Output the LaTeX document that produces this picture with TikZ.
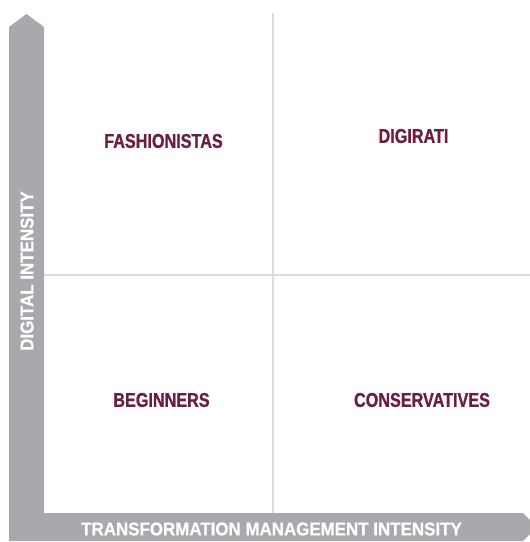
\documentclass[tikz,border=0pt]{standalone}
\usepackage{fontspec}
\setmainfont{Liberation Sans}[FakeStretch=0.81,BoldFeatures={FakeBold=1}]
\newfontfamily\axisfont{Liberation Sans}[FakeStretch=0.92,BoldFeatures={FakeBold=0.8}]
\definecolor{band}{HTML}{A7A9AC}
\definecolor{wine}{HTML}{6D1D42}
\definecolor{gridline}{HTML}{DCDCDC}
\begin{document}
\begin{tikzpicture}[x=1pt,y=-1pt,
    quad/.style={text=wine,font=\bfseries\fontsize{20}{20}\selectfont},
    axislabel/.style={text=white,font=\axisfont\bfseries\fontsize{18.4}{18.4}\selectfont}]
        \useasboundingbox (0,0) rectangle (530,542);
        \clip (0,0) rectangle (530,542);

        \draw[gridline,line width=1.5] (273,13) -- (273,513);
        \draw[gridline,line width=1.5] (44,275) -- (530,275);

        \fill[band] (9,27) -- (26.5,14) -- (44,27) -- (44,513) -- (523,513)
            -- (537,527) -- (523,541) -- (9,541) -- cycle;

        \node[quad] (fashionistas) at (163.5,141) {FASHIONISTAS};
        \node[quad] (digirati) at (413.5,136) {DIGIRATI};
        \node[quad] (beginners) at (161.5,400) {BEGINNERS};
        \node[quad] (conservatives) at (422,400) {CONSERVATIVES};

        \node[axislabel,rotate=90] (ylabel) at (27,271) {DIGITAL INTENSITY};
        \node[axislabel] (xlabel) at (271.5,529) {TRANSFORMATION MANAGEMENT INTENSITY};
    \end{tikzpicture}
\end{document}
